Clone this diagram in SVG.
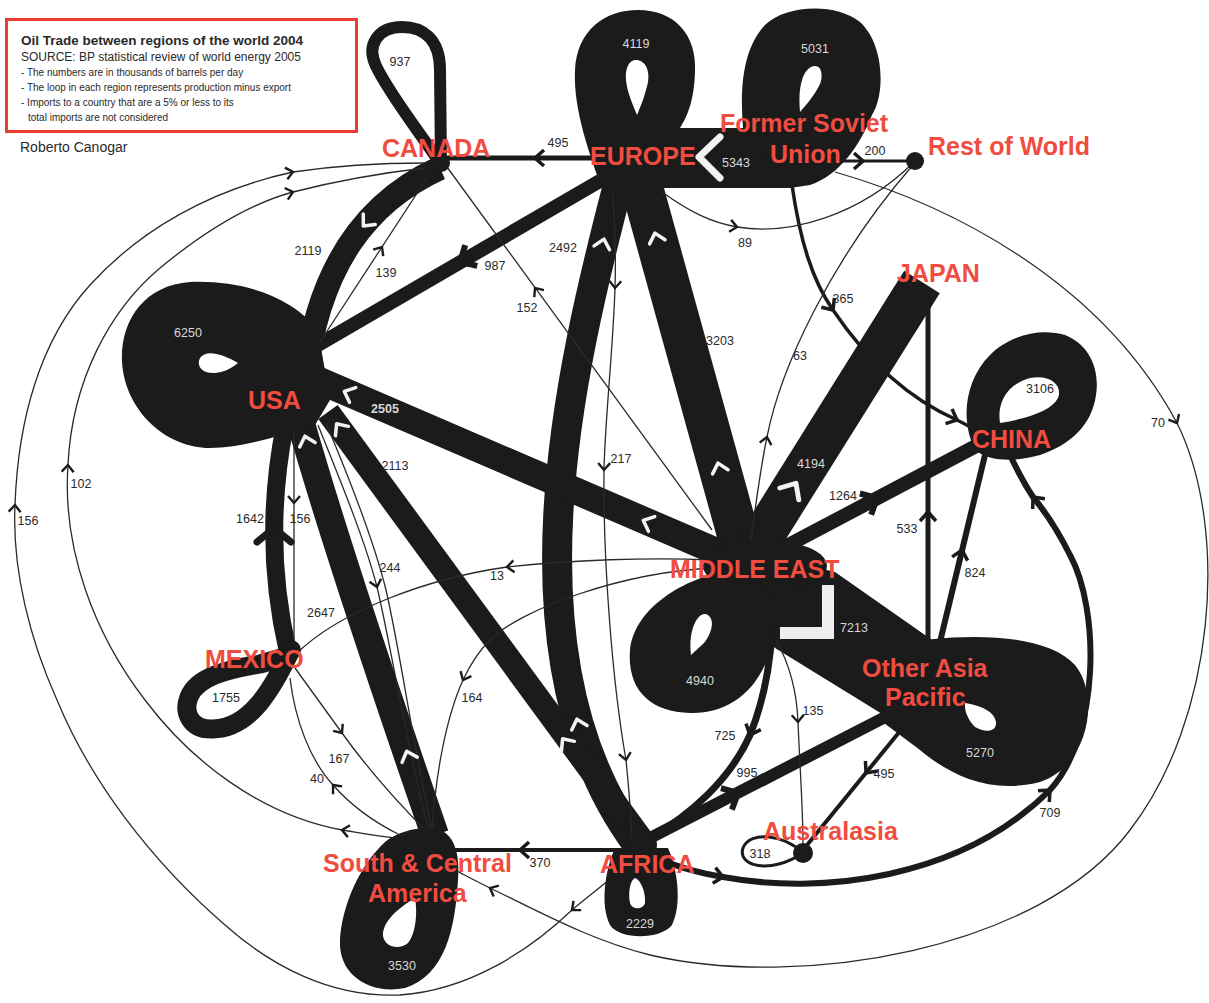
<svg xmlns="http://www.w3.org/2000/svg" width="1209" height="1003" viewBox="0 0 1209 1003">
<style>
.band{fill:none;stroke:#1b1b1b;stroke-linecap:butt}
.med{fill:none;stroke:#1b1b1b}
.thin{fill:none;stroke:#2a2a2a;stroke-width:1.3}
.blk{fill:#1b1b1b;fill-rule:evenodd}
.lbl{font-family:"Liberation Sans",Arial,sans-serif;font-weight:bold;font-size:25px;fill:#f04c40}
.num{font-family:"Liberation Sans",Arial,sans-serif;font-size:12.5px;fill:#2a2a2a;text-anchor:middle}
.numw{font-family:"Liberation Sans",Arial,sans-serif;font-size:12.5px;fill:#d8d8d8;text-anchor:middle}
.box{font-family:"Liberation Sans",Arial,sans-serif;fill:#2a2a2a}
</style>
<defs>
<path id="ah" d="M -7,-6 L 0,0 L -7,6" fill="none" stroke="#1b1b1b" stroke-width="2.4"/>
<path id="ahm" d="M -9,-8 L 0,0 L -9,8" fill="none" stroke="#1b1b1b" stroke-width="3.5"/>
<path id="ahb" d="M -13,-12 L 0,0 L -13,12" fill="none" stroke="#1b1b1b" stroke-width="6"/>
<path id="ahx" d="M -14,-17 L 0,0 L -14,17" fill="none" stroke="#1b1b1b" stroke-width="7" stroke-linecap="round"/>
<path id="chev" d="M -5,-8 L 4,0 L -5,8" fill="none" stroke="#f2f2f2" stroke-width="3.5" stroke-linecap="round" stroke-linejoin="round"/>
</defs>
<rect width="1209" height="1003" fill="#ffffff"/>

<g id="legend">
<rect x="6.5" y="19.5" width="350" height="112" fill="none" stroke="#ee3b2f" stroke-width="3"/>
<text class="box" x="21" y="45" font-size="13.5" font-weight="bold">Oil Trade between regions of the world 2004</text>
<text class="box" x="21" y="61" font-size="12">SOURCE: BP statistical review of world energy 2005</text>
<text class="box" x="21" y="76" font-size="10">- The numbers are in thousands of barrels per day</text>
<text class="box" x="21" y="91" font-size="10">- The loop in each region represents production minus export</text>
<text class="box" x="21" y="106" font-size="10">- Imports to a country that are a 5% or less to its</text>
<text class="box" x="28" y="121" font-size="10">total imports are not considered</text>
<text class="box" x="20" y="152" font-size="14" fill="#333">Roberto Canogar</text>
</g>

<g id="connectors">
<!-- thick bands -->
<path class="band" d="M 640,158 L 790,158" stroke-width="60"/>
<path class="band" d="M 605,178 L 318,345" stroke-width="14"/>
<path class="band" d="M 440,168 C 370,200 318,262 305,380" stroke-width="24"/>
<path class="band" d="M 640,180 L 745,560" stroke-width="42"/>
<path class="band" d="M 618,185 C 570,370 500,660 638,845" stroke-width="30"/>
<path class="band" d="M 720,553 L 318,380" stroke-width="27"/>
<path class="band" d="M 642,840 L 328,412" stroke-width="24"/>
<path class="band" d="M 435,835 Q 340,560 300,420" stroke-width="28"/>
<path class="band" d="M 288,652 Q 262,540 285,425" stroke-width="18"/>
<path class="band" d="M 748,560 L 922,282" stroke-width="42" stroke-linecap="round"/>
<path class="band" d="M 760,560 L 978,445" stroke-width="14"/>
<path class="blk" d="M 735,548 L 835,572 L 935,642 L 900,725 L 775,648 L 735,600 Z"/>
<path class="band" d="M 650,838 L 895,712" stroke-width="12"/>
<!-- medium lines -->
<path class="med" d="M 600,158 L 447,158" stroke-width="5"/>
<path class="med" d="M 840,161 L 910,161" stroke-width="3"/>
<path class="med" d="M 792,185 C 800,240 812,280 833,310 C 860,350 900,395 957,420 C 965,424 972,428 980,432" stroke-width="3.5"/>
<path class="med" d="M 928,642 L 928,295" stroke-width="5"/>
<path class="med" d="M 940,642 L 985,455" stroke-width="6"/>
<path class="med" d="M 662,860 C 680,868 700,873 723,877 C 820,895 960,880 1050,790 C 1100,735 1100,610 1070,555 C 1060,535 1048,515 1033,497 C 1025,485 1017,470 1010,455" stroke-width="6"/>
<path class="med" d="M 772,630 C 770,670 762,705 750,735 C 730,780 690,815 650,838" stroke-width="7"/>
<path class="med" d="M 905,725 L 803,850" stroke-width="4"/>
<path class="med" d="M 640,850 L 450,850" stroke-width="4"/>
<!-- thin lines -->
<path class="thin" d="M 318,345 L 427,178"/>
<path class="thin" d="M 447,167 L 712,530"/>
<path class="thin" d="M 662,192 C 690,212 710,222 737,227 C 790,236 860,215 913,163"/>
<path class="thin" d="M 750,548 C 755,510 760,470 767,437 C 780,370 830,260 913,165"/>
<path class="thin" stroke-width="1.6" d="M 612,185 C 615,220 616,255 615,288 C 613,350 605,420 604,470 C 603,560 612,680 626,760 C 629,790 631,815 632,838"/>
<path class="thin" d="M 776,640 C 790,665 797,695 798,722 C 800,770 803,810 803,845"/>
<path class="thin" d="M 712,560 C 650,557 570,560 507,567 C 430,578 340,610 295,655"/>
<path class="thin" d="M 715,568 C 620,572 520,610 490,640 C 478,652 470,665 463,680 C 445,720 435,780 432,832"/>
<path class="thin" d="M 294,430 L 294,648"/>
<path class="thin" d="M 318,425 C 340,480 365,540 377,587 C 392,650 405,740 430,835"/>
<path class="thin" d="M 326,423 C 350,480 375,545 386,590 C 400,650 412,740 433,835"/>
<path class="thin" d="M 295,668 L 342,733 C 370,772 400,805 430,835"/>
<path class="thin" d="M 398,834 C 370,820 348,802 333,785 C 310,760 295,720 290,678"/>
<path class="thin" d="M 395,838 C 375,836 360,833 342,830 C 260,815 190,760 145,700 C 95,635 62,550 68,465 C 72,380 110,310 160,268 C 200,235 245,205 293,192 C 340,180 390,172 425,168"/>
<path class="thin" d="M 632,860 C 610,880 590,895 572,910 C 530,950 470,990 400,995 C 330,998 270,965 225,925 C 150,860 90,780 57,700 C 30,640 12,570 15,505 C 18,420 40,340 90,285 C 140,230 210,190 293,172 C 340,165 390,163 425,163"/>
<path class="thin" d="M 835,172 C 950,205 1100,280 1177,423 C 1230,530 1215,720 1130,830 C 1040,950 800,990 650,955 C 590,940 540,912 490,888 C 478,882 466,876 455,870"/>
<!-- arrowheads -->
<use href="#ah" transform="translate(382,247) rotate(-57)"/>
<use href="#ah" transform="translate(535,288) rotate(-126)"/>
<use href="#ah" transform="translate(737,227) rotate(10)"/>
<use href="#ah" transform="translate(767,437) rotate(-78)"/>
<use href="#ah" transform="translate(615,288) rotate(92)"/>
<use href="#ah" transform="translate(604,470) rotate(91)"/>
<use href="#ah" transform="translate(626,760) rotate(80)"/>
<use href="#ah" transform="translate(798,722) rotate(88)"/>
<use href="#ah" transform="translate(507,567) rotate(174)"/>
<use href="#ah" transform="translate(463,680) rotate(115)"/>
<use href="#ah" transform="translate(294,503) rotate(90)"/>
<use href="#ah" transform="translate(377,587) rotate(76)"/>
<use href="#ah" transform="translate(342,733) rotate(54)"/>
<use href="#ah" transform="translate(333,785) rotate(-131)"/>
<use href="#ah" transform="translate(342,830) rotate(190)"/>
<use href="#ah" transform="translate(68,465) rotate(-87)"/>
<use href="#ah" transform="translate(293,192) rotate(-15)"/>
<use href="#ah" transform="translate(572,910) rotate(140)"/>
<use href="#ah" transform="translate(15,505) rotate(-87)"/>
<use href="#ah" transform="translate(293,172) rotate(-12)"/>
<use href="#ah" transform="translate(1177,423) rotate(62)"/>
<use href="#ah" transform="translate(490,888) rotate(206)"/>
<use href="#ahm" transform="translate(535,158) rotate(180)"/>
<use href="#ahm" transform="translate(863,161) rotate(0)"/>
<use href="#ahm" transform="translate(833,310) rotate(55)"/>
<use href="#ahm" transform="translate(957,420) rotate(24)"/>
<use href="#ahm" transform="translate(928,512) rotate(-90)"/>
<use href="#ahm" transform="translate(962,550) rotate(-76.5)"/>
<use href="#ahm" transform="translate(723,877) rotate(10)"/>
<use href="#ahm" transform="translate(1050,790) rotate(-45)"/>
<use href="#ahm" transform="translate(1033,497) rotate(-130)"/>
<use href="#ahm" transform="translate(750,735) rotate(112)"/>
<use href="#ahm" transform="translate(866,773) rotate(129)"/>
<use href="#ahm" transform="translate(520,850) rotate(180)"/>
<use href="#ahb" transform="translate(460,262) rotate(150)"/>
<use href="#ahx" transform="translate(274,528) rotate(-90)"/>
<use href="#ahb" transform="translate(877,498) rotate(-28)"/>
<use href="#ahb" transform="translate(738,793) rotate(-27)"/>
<!-- white chevrons -->
<path d="M 720,137 L 699,157 L 720,178" fill="none" stroke="#f2f2f2" stroke-width="7" stroke-linecap="round" stroke-linejoin="round"/>
<path d="M 828,585 L 828,633 L 780,633" fill="none" stroke="#eeeeee" stroke-width="12"/>
<use href="#chev" transform="translate(348,393) rotate(203)"/>
<use href="#chev" transform="translate(647,522) rotate(203)"/>
<use href="#chev" transform="translate(366,223) rotate(131)"/>
<use href="#chev" transform="translate(656,237) rotate(-105)"/>
<use href="#chev" transform="translate(719,467) rotate(-105)"/>
<use href="#chev" transform="translate(603,243) rotate(-76)"/>
<use href="#chev" transform="translate(578,723) rotate(-106)"/>
<use href="#chev" transform="translate(565,742) rotate(-126)"/>
<use href="#chev" transform="translate(339,427) rotate(-126)"/>
<use href="#chev" transform="translate(306,440) rotate(-106)"/>
<use href="#chev" transform="translate(408,755) rotate(-109)"/>
<use href="#chev" transform="translate(793,488) rotate(-58) scale(1.4)"/>
<!-- edge labels -->
<text class="num" x="558" y="147">495</text>
<text class="num" x="875" y="155">200</text>
<text class="num" x="745" y="247">89</text>
<text class="num" x="308" y="255">2119</text>
<text class="num" x="386" y="277">139</text>
<text class="num" x="495" y="270">987</text>
<text class="num" x="527" y="312">152</text>
<text class="num" x="563" y="252">2492</text>
<text class="num" x="720" y="345">3203</text>
<text class="num" x="843" y="303">365</text>
<text class="num" x="800" y="360">63</text>
<text class="num" x="1158" y="427">70</text>
<text class="num" x="843" y="500">1264</text>
<text class="num" x="395" y="470">2113</text>
<text class="num" x="621" y="463">217</text>
<text class="num" x="250" y="523">1642</text>
<text class="num" x="300" y="523">156</text>
<text class="num" x="907" y="533">533</text>
<text class="num" x="975" y="577">824</text>
<text class="num" x="497" y="580">13</text>
<text class="num" x="390" y="572">244</text>
<text class="num" x="321" y="617">2647</text>
<text class="num" x="472" y="702">164</text>
<text class="num" x="813" y="715">135</text>
<text class="num" x="725" y="740">725</text>
<text class="num" x="747" y="777">995</text>
<text class="num" x="884" y="778">495</text>
<text class="num" x="339" y="763">167</text>
<text class="num" x="317" y="783">40</text>
<text class="num" x="1050" y="817">709</text>
<text class="num" x="540" y="867">370</text>
<text class="num" x="81" y="488">102</text>
<text class="num" x="28" y="525">156</text>
<text class="numw" x="736" y="167">5343</text>
<text class="numw" x="385" y="413" font-weight="bold">2505</text>
<text class="numw" x="811" y="468">4194</text>
<text class="numw" x="854" y="632">7213</text>
</g>

<g id="node-canada">
<path class="band" d="M 441,162 L 440,70 C 440,38 422,27 402,27 C 378,27 366,45 376,66 C 390,95 418,130 438,160" stroke-width="12" stroke-linejoin="round"/>
<circle cx="441" cy="163" r="9" fill="#1b1b1b"/>
<text class="num" x="400" y="66">937</text>
<text class="lbl" x="382" y="157">CANADA</text>
</g>

<g id="node-europe">
<path class="blk" d="M 603,192 C 590,155 573,110 575,70 C 577,30 605,10 638,10 C 675,10 697,35 695,72 C 694,100 688,115 680,128 L 660,188 C 640,195 615,196 603,192 Z M 636,60 C 645,60 650,70 648,82 C 645,96 640,108 637,115 C 633,105 627,92 626,80 C 625,68 629,60 636,60 Z"/>
<text class="numw" x="636" y="48">4119</text>
<text class="lbl" x="590" y="165">EUROPE</text>
</g>

<g id="node-fsu">
<path class="blk" d="M 743,128 C 740,90 742,50 765,25 C 785,5 835,2 860,22 C 885,45 885,95 872,115 C 860,145 840,175 810,185 L 790,188 Z M 815,66 C 822,66 823,76 820,84 C 815,95 806,105 800,112 C 799,100 799,88 803,77 C 806,70 810,66 815,66 Z"/>
<text class="numw" x="815" y="53">5031</text>
<text class="lbl" x="720" y="132">Former Soviet</text>
<text class="lbl" x="770" y="163">Union</text>
</g>

<g id="node-row">
<circle cx="915" cy="161" r="9" fill="#1b1b1b"/>
<text class="lbl" x="928" y="155">Rest of World</text>
</g>

<g id="node-usa">
<path class="blk" d="M 318,330 C 290,295 240,280 190,282 C 145,285 120,320 122,362 C 125,410 165,448 210,448 C 245,448 280,435 315,425 L 330,400 Z M 238,363 C 220,352 205,350 200,358 C 196,366 202,374 215,373 C 225,372 232,368 238,363 Z"/>
<text class="numw" x="188" y="337">6250</text>
<text class="lbl" x="248" y="409">USA</text>
</g>

<g id="node-japan">
<text class="lbl" x="897" y="282">JAPAN</text>
</g>

<g id="node-china">
<path class="blk" d="M 975,450 C 960,420 965,380 990,355 C 1010,335 1040,328 1065,335 C 1090,345 1100,370 1096,395 C 1092,425 1070,445 1040,455 C 1015,462 990,462 975,450 Z M 1000,423 C 997,405 1005,385 1030,378 C 1050,374 1063,385 1058,398 C 1052,410 1030,418 1000,423 Z"/>
<text class="num" x="1040" y="393">3106</text>
<text class="lbl" x="972" y="448">CHINA</text>
</g>

<g id="node-middle-east">
<ellipse cx="765" cy="566" rx="62" ry="26" fill="#1b1b1b"/>
<path class="blk" d="M 735,570 C 690,575 635,605 630,650 C 627,690 650,712 690,713 C 730,714 760,690 772,645 L 778,600 Z M 708,615 C 715,620 712,633 704,643 L 691,655 C 689,640 692,625 698,618 C 701,614 705,613 708,615 Z"/>
<text class="numw" x="700" y="685">4940</text>
<text class="lbl" x="670" y="578">MIDDLE EAST</text>
</g>

<g id="node-oap">
<path class="blk" d="M 890,645 C 960,632 1045,632 1075,665 C 1100,695 1090,765 1040,782 C 990,795 950,775 920,750 L 880,720 Z M 965,703 C 980,705 995,712 996,722 C 997,732 985,733 975,727 C 968,720 964,710 965,703 Z"/>
<text class="numw" x="980" y="757">5270</text>
<text class="lbl" x="862" y="677">Other Asia</text>
<text class="lbl" x="885" y="706">Pacific</text>
</g>

<g id="node-mexico">
<path class="band" d="M 292,648 C 272,690 250,728 213,729 C 190,730 183,712 189,697 C 197,677 225,670 260,664 L 292,655" stroke-width="19" stroke-linejoin="round" stroke-linecap="round"/>
<circle cx="291" cy="650" r="10" fill="#1b1b1b"/>
<text class="num" x="226" y="702">1755</text>
<text class="lbl" x="205" y="668">MEXICO</text>
</g>

<g id="node-sca">
<path class="blk" d="M 385,842 C 400,830 425,825 440,830 C 455,836 460,855 458,880 C 455,930 445,975 405,988 C 370,995 338,975 340,940 C 342,905 360,865 385,842 Z M 415,898 C 418,915 415,935 408,943 C 400,950 385,948 383,936 C 382,922 398,908 415,898 Z"/>
<text class="numw" x="402" y="970">3530</text>
<text class="lbl" x="323" y="872">South &amp; Central</text>
<text class="lbl" x="368" y="902">America</text>
</g>

<g id="node-africa">
<circle cx="643" cy="845" r="14" fill="#1b1b1b"/>
<path class="blk" d="M 615,848 C 605,870 600,905 610,925 C 620,940 660,940 672,925 C 682,905 678,870 668,848 Z M 635,878 C 641,880 646,893 645,903 C 643,910 632,910 630,903 C 628,893 630,880 635,878 Z"/>
<text class="numw" x="640" y="928">2229</text>
<text class="lbl" x="600" y="873">AFRICA</text>
</g>

<g id="node-australasia">
<path d="M 803,853 C 785,835 750,830 743,848 C 737,866 770,875 803,853" fill="none" stroke="#1b1b1b" stroke-width="3"/>
<circle cx="803" cy="853" r="10" fill="#1b1b1b"/>
<text class="num" x="760" y="858">318</text>
<text class="lbl" x="763" y="840">Australasia</text>
</g>
</svg>
